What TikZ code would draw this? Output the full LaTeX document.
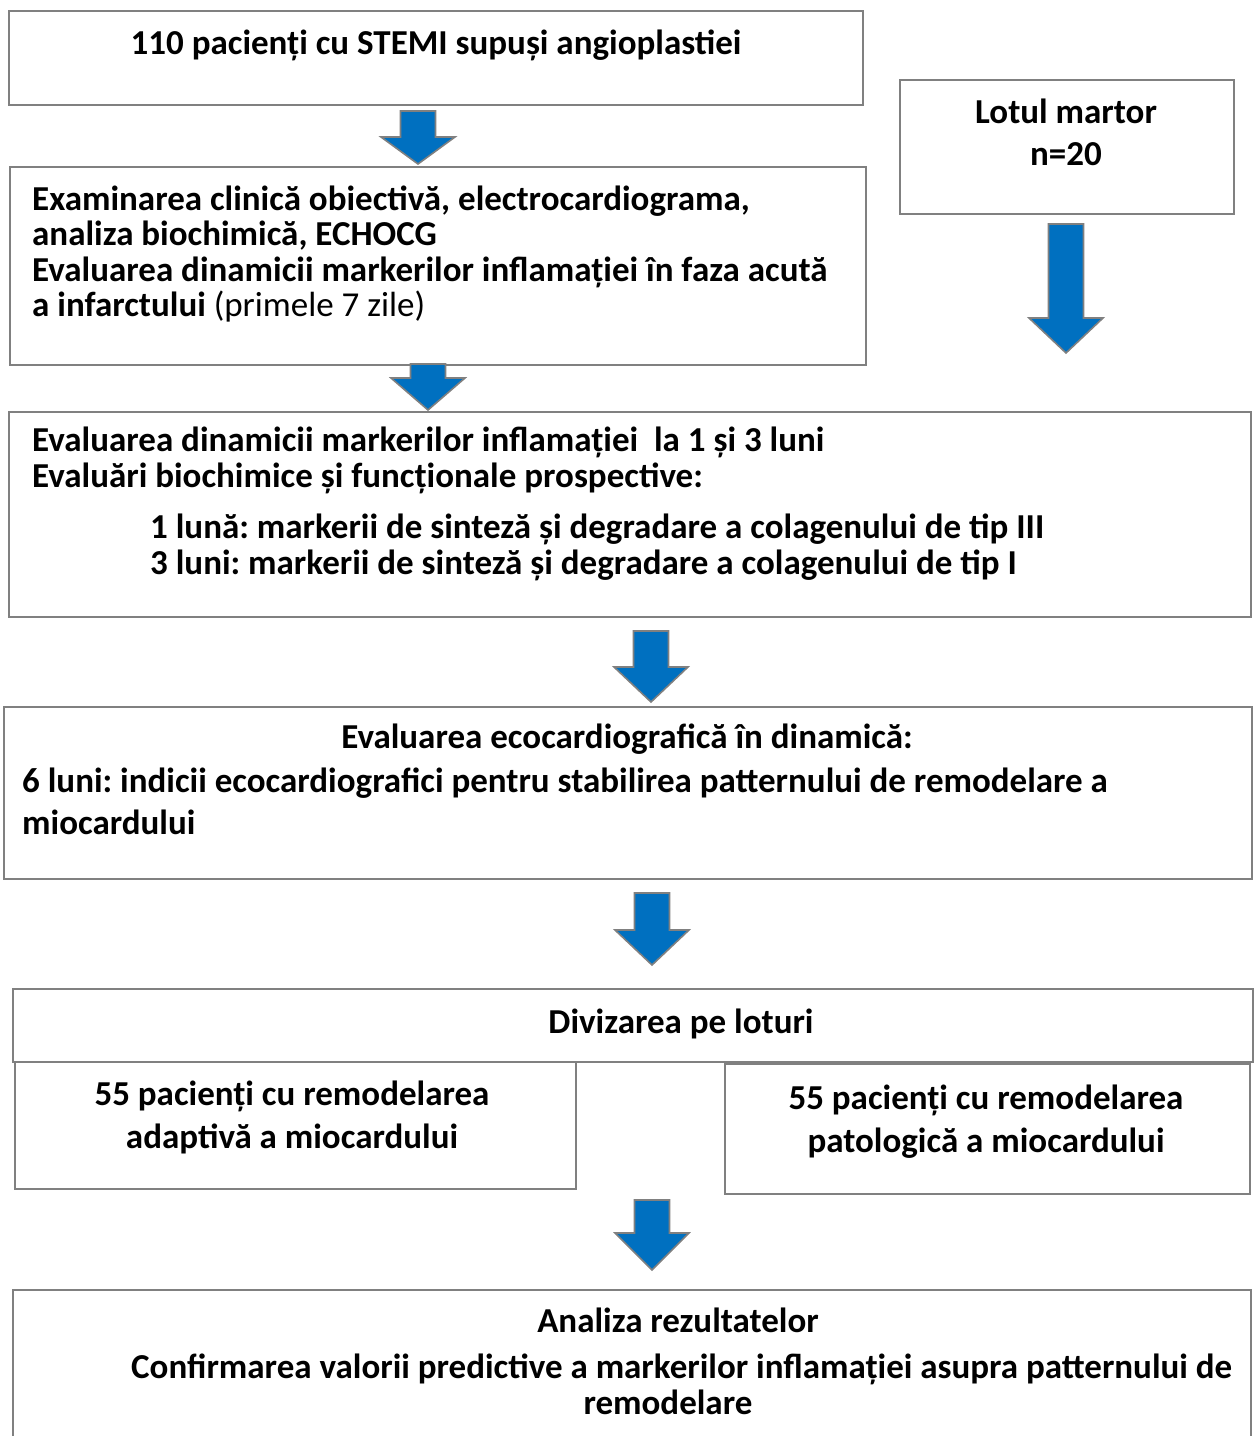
\documentclass[tikz,border=0pt]{standalone}
\usepackage{fontspec}
\setmainfont{Carlito}
\usetikzlibrary{calc}
\definecolor{bord}{HTML}{808080}
\definecolor{ablue}{HTML}{0070C0}
\newcommand{\flowarrow}[3]{%
  \draw[barrow] let \p1=(#1), \p2=(#2) in
    (\x1-17.5pt,\y1) -- (\x1+17.5pt,\y1) -- (\x1+17.5pt,\y2+#3pt) -- (\x1+37pt,\y2+#3pt)
    -- (\x1,\y2) -- (\x1-37pt,\y2+#3pt) -- (\x1-17.5pt,\y2+#3pt) -- cycle;}
\begin{document}
\frenchspacing
\begin{tikzpicture}[x=1pt,y=-1pt,
  box/.style={draw=bord, line width=2pt, fill=white, inner sep=0pt, anchor=north west},
  txt/.style={inner sep=0pt, font=\fontsize{35}{36}\selectfont\bfseries},
  barrow/.style={fill=ablue, draw=bord, line width=1.6pt, line join=miter}]
\useasboundingbox (0,0) rectangle (1256,1436);

% boxes
\node[box, minimum width=854pt, minimum height=94pt] (b1) at (8,10) {};
\node[box, minimum width=334pt, minimum height=134pt] (lot) at (899,79) {};
\node[box, minimum width=856pt, minimum height=198pt] (b2) at (9,166) {};
\node[box, minimum width=1242pt, minimum height=205pt] (b3) at (8,411) {};
\node[box, minimum width=1248pt, minimum height=172pt] (b4) at (3,706) {};
\node[box, minimum width=1240pt, minimum height=73pt] (b5) at (12,988) {};
\node[box, minimum width=561pt, minimum height=127pt] (bl) at (14,1061) {};
\node[box, minimum width=525pt, minimum height=130pt] (br) at (724,1063) {};
\node[box, minimum width=1238pt, minimum height=170pt] (b6) at (12,1289) {};

% texts
\node[txt, anchor=base] (t1) at (436,54) {110 pacienți cu STEMI supuși angioplastiei};
\node[txt, anchor=base] (tl1) at (1066,123) {Lotul martor};
\node[txt, anchor=base] (tl2) at (1066,165) {n=20};

\node[txt, anchor=base west] (t21) at (32,210) {Examinarea clinică obiectivă, electrocardiograma,};
\node[txt, anchor=base west] (t22) at (32,245.5) {analiza biochimică, ECHOCG};
\node[txt, anchor=base west] (t23) at (32,281) {Evaluarea dinamicii markerilor inflamației în faza acută};
\node[txt, anchor=base west] (t24) at (32,316.5) {a infarctului \mdseries(primele 7 zile)};

\node[txt, anchor=base west] (t31) at (32,451) {Evaluarea dinamicii markerilor inflamației\ \ la 1 și 3 luni};
\node[txt, anchor=base west] (t32) at (32,487) {Evaluări biochimice și funcționale prospective:};
\node[txt, anchor=base west] (t33) at (150,538) {1 lună: markerii de sinteză și degradare a colagenului de tip III};
\node[txt, anchor=base west] (t34) at (150,574) {3 luni: markerii de sinteză și degradare a colagenului de tip I};

\node[txt, anchor=base] (t41) at (627,748) {Evaluarea ecocardiografică în dinamică:};
\node[txt, anchor=base west] (t42) at (22,792) {6 luni: indicii ecocardiografici pentru stabilirea patternului de remodelare a};
\node[txt, anchor=base west] (t43) at (22,834) {miocardului};

\node[txt, anchor=base] (t51) at (681,1033) {Divizarea pe loturi};
\node[txt, anchor=base] (tla) at (292,1105) {55 pacienți cu remodelarea};
\node[txt, anchor=base] (tlb) at (292,1148) {adaptivă a miocardului};
\node[txt, anchor=base] (tra) at (986,1109) {55 pacienți cu remodelarea};
\node[txt, anchor=base] (trb) at (986,1152) {patologică a miocardului};

\node[txt, anchor=base] (t61) at (678,1332) {Analiza rezultatelor};
\node[txt, anchor=base west] (t62) at (131,1378) {Confirmarea valorii predictive a markerilor inflamației asupra patternului de};
\node[txt, anchor=base] (t63) at (668,1414) {remodelare};

% arrow end points
\coordinate (a1s) at (418,111);  \coordinate (a1e) at (418,164);
\coordinate (a2s) at (428,364);  \coordinate (a2e) at (428,410);
\coordinate (aLs) at (1066,224); \coordinate (aLe) at (1066,353);
\coordinate (a3s) at (651,631);  \coordinate (a3e) at (651,702);
\coordinate (a4s) at (652,893);  \coordinate (a4e) at (652,965);
\coordinate (a5s) at (652,1200); \coordinate (a5e) at (652,1270);

\flowarrow{a1s}{a1e}{27}
\flowarrow{a2s}{a2e}{32}
\flowarrow{aLs}{aLe}{35}
\flowarrow{a3s}{a3e}{35}
\flowarrow{a4s}{a4e}{35}
\flowarrow{a5s}{a5e}{37}
\end{tikzpicture}
\end{document}
